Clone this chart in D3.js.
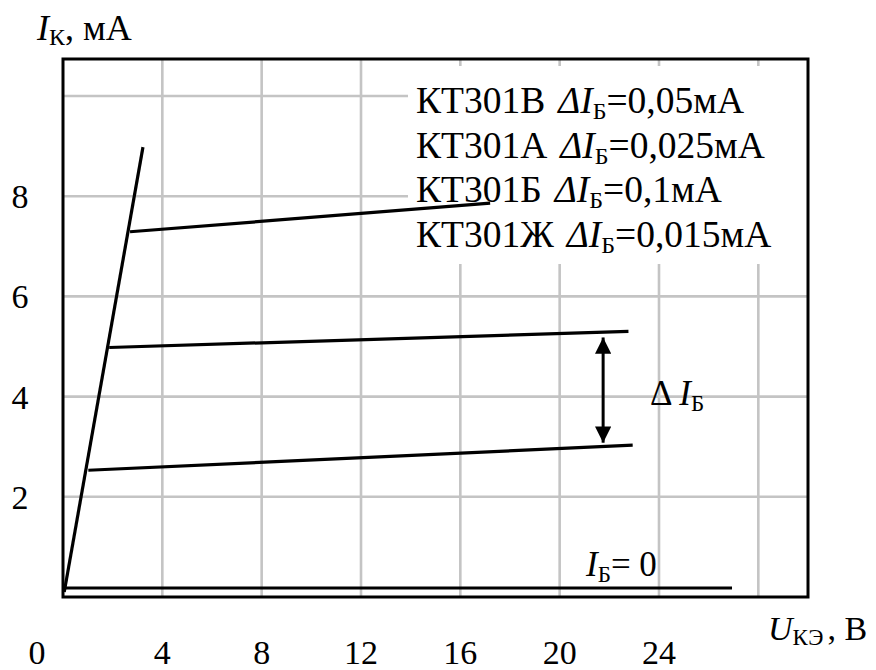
<!DOCTYPE html>
<html>
<head>
<meta charset="utf-8">
<script src="https://cdn.jsdelivr.net/npm/d3@7"></script>
<style>
html,body{margin:0;padding:0;background:#fff;}
svg{display:block;}
svg text{font-family:"Liberation Serif","Times New Roman",Tinos,serif;}
</style>
</head>
<body>
<svg id="chart" width="876" height="670"></svg>
<script>
// ---- data ----
const xTickValues = [0, 4, 8, 12, 16, 20, 24];
const yTickValues = [2, 4, 6, 8];
const gridXValues = [4, 8, 12, 16, 20, 24, 28];
const gridYValues = [2, 4, 6, 8, 10];
const steepLine = [[0.05, 0.1], [3.22, 8.98]];
const curveTop = [[2.70, 7.29], [17.2, 7.86]];
const curveMid = [[1.86, 4.98], [22.77, 5.30]];
const curveLow = [[1.02, 2.53], [22.94, 3.03]];
const curveZero = [[0.12, 0.18], [26.94, 0.18]];
const deltaArrowU = 21.75;
const deltaArrowI = [5.18, 3.08];
const legendTypes = ["КТ301В", "КТ301А", "КТ301Б", "КТ301Ж"];
const legendDeltas = ["0,05", "0,025", "0,1", "0,015"];

(function () {
// ---- layout ----
const svg = d3.select("#chart");
const pLeft = 63, pTop = 59, pRight = 808, pBottom = 597;
const x = d3.scaleLinear().domain([0, 30]).range([pLeft, pRight]);
const y = d3.scaleLinear().domain([0, 10]).range([pBottom, 96]);

// grid
const grid = svg.append("g").attr("stroke", "#c4c4c4").attr("stroke-width", 2.6);
grid.selectAll("line.gx").data(gridXValues).join("line").attr("class", "gx")
  .attr("x1", d => x(d)).attr("x2", d => x(d)).attr("y1", pTop).attr("y2", pBottom);
grid.selectAll("line.gy").data(gridYValues).join("line").attr("class", "gy")
  .attr("x1", pLeft).attr("x2", pRight).attr("y1", d => y(d)).attr("y2", d => y(d));

// white legend panel covering grid
svg.append("rect").attr("x", 408).attr("y", 66).attr("width", pRight - 408).attr("height", 198).attr("fill", "#fff");

// frame
svg.append("rect").attr("x", pLeft).attr("y", pTop).attr("width", pRight - pLeft).attr("height", pBottom - pTop)
  .attr("fill", "none").attr("stroke", "#000").attr("stroke-width", 3);

// curves
const line = d3.line().x(d => x(d[0])).y(d => y(d[1]));
[steepLine, curveTop, curveMid, curveLow, curveZero].forEach(c => {
  svg.append("path").attr("d", line(c)).attr("fill", "none").attr("stroke", "#000").attr("stroke-width", 3.2);
});

// double arrow
const defs = svg.append("defs");
defs.append("marker").attr("id", "ah").attr("viewBox", "0 0 10 10").attr("refX", 10).attr("refY", 5)
  .attr("markerWidth", 5.4).attr("markerHeight", 5.4).attr("markerUnits", "strokeWidth").attr("orient", "auto-start-reverse")
  .append("path").attr("d", "M0,0 L10,5 L0,10 Z").attr("fill", "#000");
svg.append("line")
  .attr("x1", x(deltaArrowU)).attr("x2", x(deltaArrowU))
  .attr("y1", y(deltaArrowI[0])).attr("y2", y(deltaArrowI[1]))
  .attr("stroke", "#000").attr("stroke-width", 3)
  .attr("marker-start", "url(#ah)").attr("marker-end", "url(#ah)");

// tick labels
const fs = 34;
svg.append("g").selectAll("text").data(xTickValues).join("text")
  .attr("x", d => d === 0 ? x(d) - 26 : x(d)).attr("y", 664)
  .attr("text-anchor", "middle").attr("font-size", fs).text(d => d);
svg.append("g").selectAll("text").data(yTickValues).join("text")
  .attr("x", 20).attr("y", d => y(d) + 12)
  .attr("text-anchor", "middle").attr("font-size", fs).text(d => d);

// helper for rich text
function rich(sel, parts) {
  parts.forEach(p => {
    const t = sel.append("tspan").text(p.t);
    if (p.i) t.attr("font-style", "italic");
    if (p.s) t.attr("font-size", p.s);
    if (p.dy) t.attr("dy", p.dy);
    if (p.dx) t.attr("dx", p.dx);
  });
  return sel;
}

// axis titles
rich(svg.append("text").attr("x", 37).attr("y", 40).attr("font-size", 36), [
  {t: "I", i: true}, {t: "К", s: 24, dy: 5}, {t: ", мА", dy: -5}
]);
rich(svg.append("text").attr("x", 768).attr("y", 640).attr("font-size", 34), [
  {t: "U", i: true}, {t: "КЭ", s: 23, dy: 5}, {t: ", В", dy: -5, dx: 4}
]);

// legend
legendTypes.forEach((tp, i) => {
  rich(svg.append("text").attr("x", 416).attr("y", 113 + i * 44.5).attr("font-size", 37.5), [
    {t: tp}, {t: "ΔI", i: true, dx: 13}, {t: "Б", s: 24, dy: 6}, {t: "=" + legendDeltas[i] + "мА", dy: -6}
  ]);
});

// ΔIБ label
rich(svg.append("text").attr("x", 650).attr("y", 405).attr("font-size", 35), [
  {t: "Δ "}, {t: "I", i: true}, {t: "Б", s: 23, dy: 6}
]);
// IБ = 0 label
rich(svg.append("text").attr("x", 586).attr("y", 576).attr("font-size", 35), [
  {t: "I", i: true}, {t: "Б", s: 23, dy: 6}, {t: "= 0", dy: -6}
]);
})();
</script>
</body>
</html>
